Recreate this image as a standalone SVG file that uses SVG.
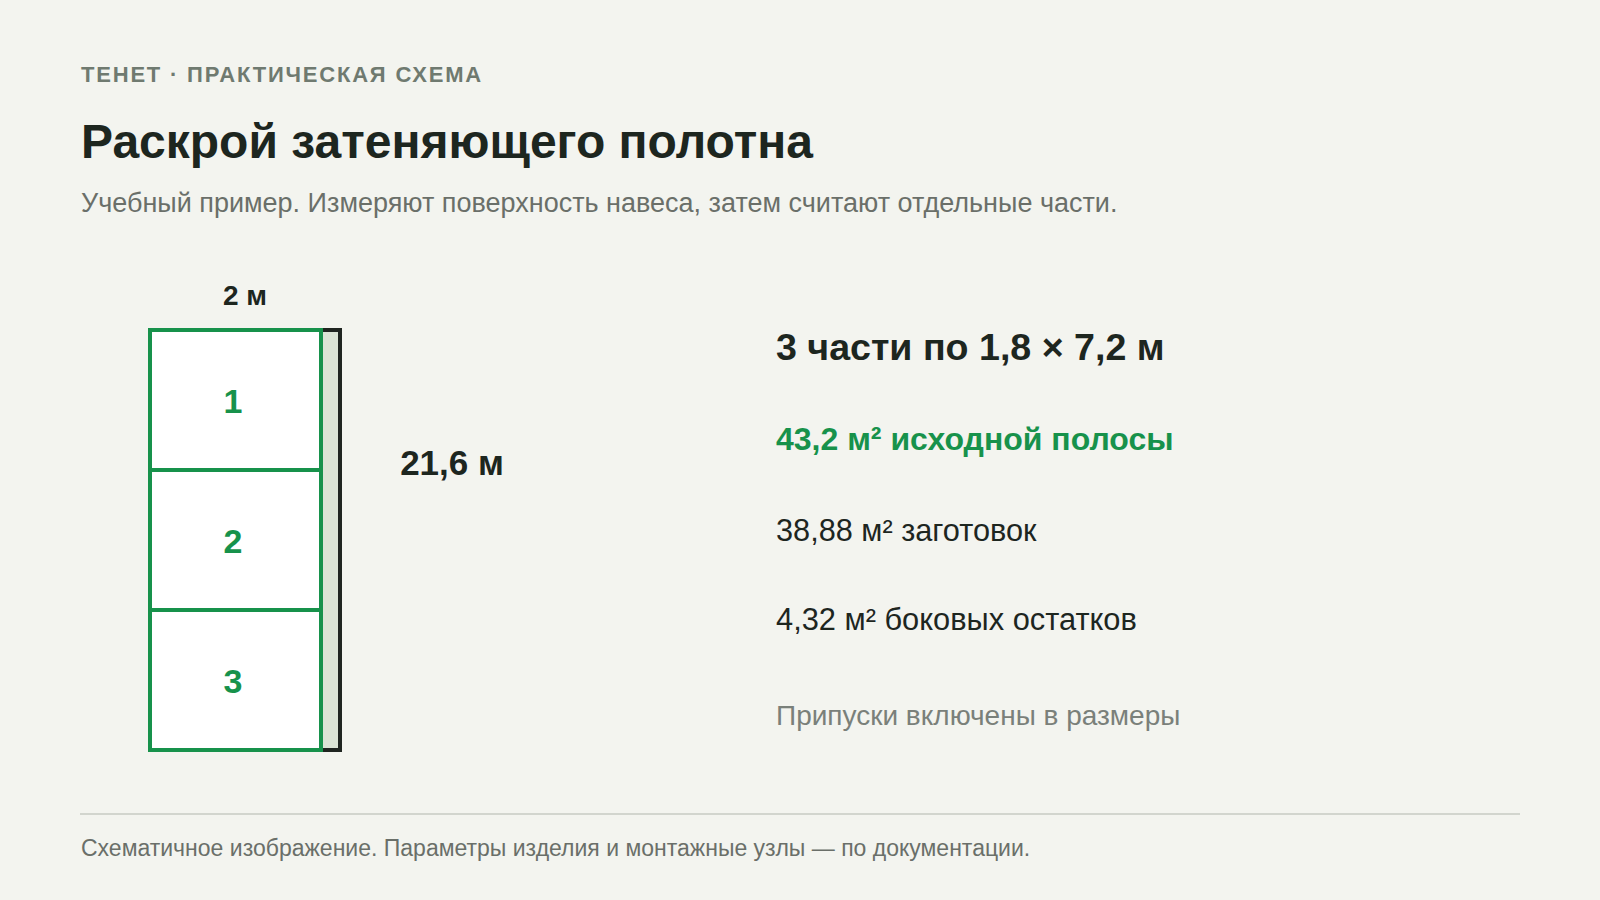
<svg xmlns="http://www.w3.org/2000/svg" width="1600" height="900" viewBox="0 0 1600 900">
<style>
text{font-family:"Liberation Sans",Arial,sans-serif}
.kicker{font-size:22px;font-weight:700;fill:#6f7a70;letter-spacing:1.8px}
.title{font-size:48px;font-weight:700;fill:#1d261f}
.sub{font-size:27px;fill:#6a6f69}
.dim{font-weight:700;fill:#1d261f;text-anchor:middle}
.num{font-size:34px;font-weight:700;fill:#17924b;text-anchor:middle}
.part{fill:#ffffff;stroke:#17924b;stroke-width:4}
.strip{fill:#dbe4d5;stroke:#1f2520;stroke-width:4}
.foot{font-size:23px;fill:#6a6f69}
</style>
<rect width="1600" height="900" fill="#f3f4ef"/>
<text class="kicker" x="81" y="82">ТЕНЕТ · ПРАКТИЧЕСКАЯ СХЕМА</text>
<text class="title" x="81" y="158">Раскрой затеняющего полотна</text>
<text class="sub" x="81" y="212">Учебный пример. Измеряют поверхность навеса, затем считают отдельные части.</text>

<g id="strip">
<rect class="strip" x="150" y="330" width="190" height="420"/>
</g>
<g id="part1"><rect class="part" x="150" y="330" width="171" height="140"/><text class="num" x="233" y="413">1</text></g>
<g id="part2"><rect class="part" x="150" y="470" width="171" height="140"/><text class="num" x="233" y="553">2</text></g>
<g id="part3"><rect class="part" x="150" y="610" width="171" height="140"/><text class="num" x="233" y="693">3</text></g>
<g id="connectors"></g>
<g id="dims">
<text class="dim" x="245" y="305" font-size="28">2 м</text>
<text class="dim" x="452" y="475" font-size="35">21,6 м</text>
</g>
<g id="summary">
<text x="776" y="360" font-size="37.6" font-weight="700" fill="#1d261f">3 части по 1,8 × 7,2 м</text>
<text x="776" y="450" font-size="32" font-weight="700" fill="#17924b">43,2 м² исходной полосы</text>
<text x="776" y="541" font-size="30.7" fill="#1d261f">38,88 м² заготовок</text>
<text x="776" y="630" font-size="30.8" fill="#1d261f">4,32 м² боковых остатков</text>
<text x="776" y="725" font-size="28" fill="#7a807a">Припуски включены в размеры</text>
</g>
<line x1="80" y1="814" x2="1520" y2="814" stroke="#d2d5ce" stroke-width="2"/>
<text class="foot" x="81" y="856">Схематичное изображение. Параметры изделия и монтажные узлы — по документации.</text>
</svg>
